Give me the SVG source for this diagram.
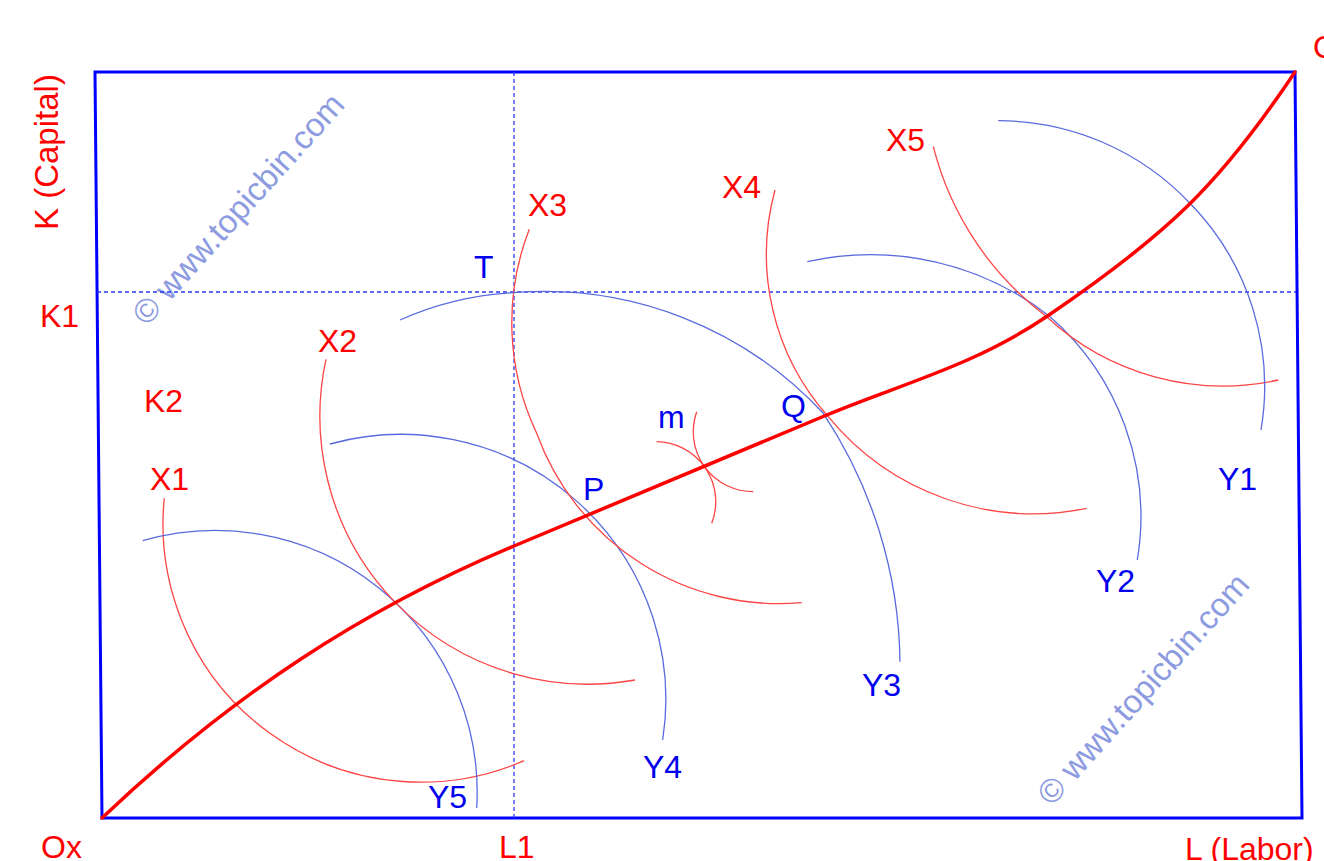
<svg xmlns="http://www.w3.org/2000/svg" width="1324" height="861" viewBox="0 0 1324 861">
<style>
text{font-family:"Liberation Sans",Arial,sans-serif;font-size:32px}
.r{fill:#ff0000}
.b{fill:#0000ee}
.wm{fill:#8d9be0;font-size:33px}
.xa{fill:none;stroke:#ff4444;stroke-width:1.3}
.ya{fill:none;stroke:#5a6ade;stroke-width:1.3}
.dash{fill:none;stroke:#2a3af0;stroke-width:1.3;stroke-dasharray:4 3}
</style>
<rect width="1324" height="861" fill="#ffffff"/>
<g id="watermarks">
<text class="wm" transform="translate(147,327) rotate(-48)">© www.topicbin.com</text>
<text class="wm" transform="translate(1052,807) rotate(-48)">© www.topicbin.com</text>
</g>
<g id="box">
<path d="M95,72 L1295,72 L1302,818 L102,818 Z" fill="none" stroke="#0000ff" stroke-width="3"/>
</g>
<g id="guides">
<path class="dash" d="M514,72 L514,818"/>
<path class="dash" d="M97,292 L1296,292"/>
</g>
<g id="isoquants">
<path id="X1" class="xa" d="M164.3,498.3 A258,258 0 0 0 524,760.7"/>
<path id="Y5" class="ya" d="M142.7,540.7 A262,262 0 0 1 476.7,808"/>
<path id="X2" class="xa" d="M326,359.3 A268,268 0 0 0 635,680"/>
<path id="Y4" class="ya" d="M330,444 A265,265 0 0 1 662.7,740"/>
<path id="X3" class="xa" d="M529.3,229.3 A258,258 0 0 0 536.7,433.3 A258,258 0 0 0 801.7,602.7"/>
<path id="Y3" class="ya" d="M400,320 A320,320 0 0 1 513.3,292.7 A380,380 0 0 1 823.3,413.3 A460,460 0 0 1 900,661.7"/>
<path id="X4" class="xa" d="M775,190 A244,244 0 0 0 828.3,416.7 A265,265 0 0 0 1086.7,508.3"/>
<path id="Y2" class="ya" d="M807.3,261.7 A290,290 0 0 1 1050,316.7 A265,265 0 0 1 1137.3,560"/>
<path id="X5" class="xa" d="M933.3,146.7 A307,307 0 0 0 1046.7,316.7 A259,259 0 0 0 1278.3,380"/>
<path id="Y1" class="ya" d="M998.3,120.7 A264,264 0 0 1 1190,203.3 A262,262 0 0 1 1261,430"/>
<path id="mY" class="xa" d="M656.7,441.7 A60,60 0 0 1 711.7,523.3"/>
<path id="mX" class="xa" d="M696.7,411.7 A60,60 0 0 0 753.3,491.7"/>
</g>
<g id="contract-curve">
<path d="M102,818 C232,694.5 364,608.9 514,546 L826.7,415 C900.3,384.2 973.9,366 1047.5,316 C1167.5,234.4 1220,184.5 1295,72" fill="none" stroke="#ff0000" stroke-width="3.5" stroke-linecap="round" stroke-linejoin="round"/>
</g>
<g id="labels">
<text class="r" transform="translate(58,230) rotate(-90)" style="font-size:33px">K (Capital)</text>
<text class="r" x="40" y="327">K1</text>
<text class="r" x="144" y="412">K2</text>
<text class="r" x="150" y="490">X1</text>
<text class="r" x="318" y="352">X2</text>
<text class="r" x="528" y="216">X3</text>
<text class="r" x="722" y="198">X4</text>
<text class="r" x="886" y="151">X5</text>
<text class="b" x="474" y="278">T</text>
<text class="b" x="658" y="428">m</text>
<text class="b" x="583" y="500">P</text>
<text class="b" x="781" y="417">Q</text>
<text class="b" x="1218" y="490">Y1</text>
<text class="b" x="1096" y="592">Y2</text>
<text class="b" x="862" y="696">Y3</text>
<text class="b" x="643" y="778">Y4</text>
<text class="b" x="428" y="808">Y5</text>
<text class="r" x="41" y="858">Ox</text>
<text class="r" x="499" y="858">L1</text>
<text class="r" x="1185" y="860">L (Labor)</text>
<text class="r" x="1313" y="58">Oy</text>
</g>
</svg>
